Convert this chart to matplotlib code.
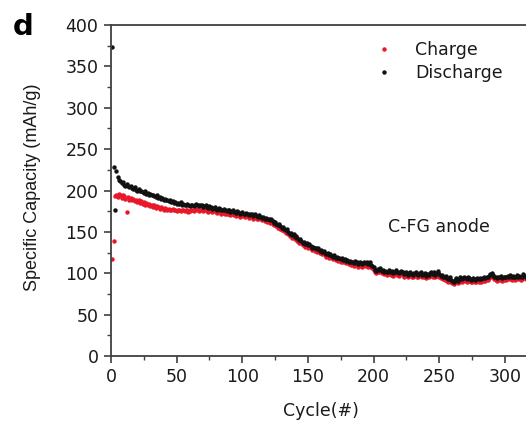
import matplotlib
matplotlib.use("Agg")
import matplotlib.pyplot as plt
from matplotlib.ticker import MultipleLocator, FixedLocator

plt.rcParams['font.family'] = ['DejaVu Sans']

discharge = [
    373, 228, 176, 224, 216, 213, 211, 209, 210, 207,
    206, 208, 205, 204, 206, 203, 202, 204, 201, 200,
    202, 199, 200, 198, 197, 199, 196, 197, 195, 196,
    194, 195, 193, 192, 194, 191, 192, 190, 191, 189,
    190, 188, 189, 187, 188, 186, 187, 185, 186, 184,
    185, 184, 186, 183, 184, 182, 183, 184, 182, 181,
    183, 182, 181, 183, 184, 182, 181, 183, 182, 180,
    181, 182, 180, 179, 181, 180, 178, 179, 180, 178,
    177, 179, 178, 176, 177, 178, 176, 175, 177, 176,
    174, 175, 176, 174, 173, 175, 174, 172, 173, 174,
    172, 171, 173, 172, 170, 171, 172, 169, 170, 171,
    169, 168, 170, 168, 167, 168, 166, 167, 165, 166,
    164, 165, 163, 161, 162, 160, 158, 159, 157, 155,
    156, 154, 152, 153, 150, 148, 149, 146, 147, 144,
    145, 142, 140, 141, 139, 137, 138, 135, 136, 134,
    135, 133, 131, 132, 130, 131, 129, 130, 127, 128,
    126, 127, 125, 123, 124, 122, 123, 121, 120, 122,
    119, 120, 118, 119, 117, 118, 116, 117, 115, 116,
    114, 115, 113, 114, 112, 115, 113, 111, 112, 113,
    111, 112, 114, 112, 113, 111, 113, 110, 109, 107,
    104, 103, 105, 104, 106, 103, 104, 102, 103, 101,
    102, 104, 101, 103, 100, 102, 104, 101, 100, 102,
    103, 101, 99, 100, 102, 98, 100, 101, 99, 98,
    100, 102, 99, 98, 100, 101, 98, 99, 100, 97,
    99, 98, 100, 102, 99, 101, 98, 100, 103, 99,
    97, 98, 96, 95, 97, 94, 93, 95, 92, 91,
    90, 92, 94, 91, 93, 95, 93, 94, 96, 94,
    93, 95, 94, 92, 93, 94, 92, 93, 94, 93,
    94, 93, 94, 95, 94, 96, 95, 97, 99, 100,
    98, 96, 95, 94, 96, 95, 97, 94, 95, 96,
    95, 97, 96, 98, 95, 97, 96, 95, 98, 96,
    97, 95, 96, 99, 97, 96, 98, 97, 95, 96,
]

charge = [
    117, 139, 193, 195, 192, 196, 194, 191, 195, 193,
    190, 174, 192, 189, 191, 188, 190, 187, 189, 186,
    188, 185, 187, 184, 186, 183, 185, 182, 184, 181,
    183, 180, 182, 179, 181, 180, 178, 180, 179, 177,
    179, 178, 177, 178, 176, 177, 178, 176, 177, 175,
    177, 176, 175, 177, 176, 175, 177, 176, 174, 175,
    176, 177, 175, 176, 178, 176, 175, 177, 176, 175,
    176, 177, 175, 174, 176, 175, 174, 175, 176, 174,
    173, 175, 174, 172, 173, 174, 172, 171, 173, 172,
    170, 171, 172, 170, 169, 171, 170, 168, 169, 170,
    169, 168, 170, 169, 167, 168, 169, 166, 167, 168,
    166, 165, 167, 165, 164, 165, 163, 164, 162, 163,
    161, 162, 160, 158, 159, 157, 155, 156, 154, 152,
    153, 151, 149, 150, 147, 145, 146, 143, 144, 141,
    142, 139, 137, 138, 136, 134, 135, 132, 133, 131,
    132, 130, 128, 129, 127, 128, 126, 127, 124, 125,
    123, 124, 122, 120, 121, 119, 120, 118, 117, 119,
    116, 117, 115, 116, 114, 115, 113, 114, 112, 113,
    111, 112, 110, 111, 109, 112, 110, 108, 109, 110,
    108, 109, 111, 109, 110, 108, 110, 107, 106, 104,
    101, 100, 102, 101, 103, 100, 101, 99, 100, 98,
    99, 101, 98, 100, 97, 99, 101, 98, 97, 99,
    100, 98, 96, 97, 99, 95, 97, 98, 96, 95,
    97, 99, 96, 95, 97, 98, 95, 96, 97, 94,
    96, 95, 97, 99, 96, 98, 95, 97, 100, 96,
    94, 95, 93, 92, 94, 91, 90, 92, 89, 88,
    87, 89, 91, 88, 90, 92, 90, 91, 93, 91,
    90, 92, 91, 89, 90, 91, 89, 90, 91, 90,
    91, 90, 91, 92, 91, 93, 92, 94, 96, 97,
    95, 93, 92, 91, 93, 92, 94, 91, 92, 93,
    92, 94, 93, 95, 92, 94, 93, 92, 95, 93,
    94, 92, 93, 96, 94, 93, 95, 94, 92, 93,
]

cycles = list(range(1, len(discharge) + 1))
x_major = [0, 50, 100, 150, 200, 250, 300]

W, H = 526, 428
fig = plt.figure(figsize=(W / 100, H / 100), dpi=100)
ax_w = 459.6
ax_h = 331
ax = fig.add_axes([111 / W, 1 - 356 / H, ax_w / W, ax_h / H])

ax.plot(cycles, charge, linestyle='none', marker='o', ms=3.2, mew=0,
        color='#e8182a', label='Charge')
ax.plot(cycles, discharge, linestyle='none', marker='o', ms=3.2, mew=0,
        color='#111111', label='Discharge')

ax.set_xlim(0, 350)
ax.set_ylim(0, 400)
ax.xaxis.set_major_locator(FixedLocator(x_major))
ax.xaxis.set_minor_locator(MultipleLocator(25))
ax.yaxis.set_major_locator(MultipleLocator(50))
ax.yaxis.set_minor_locator(MultipleLocator(25))

for s in ax.spines.values():
    s.set_color('#404040')
    s.set_linewidth(1.3)
ax.spines['right'].set_visible(False)

fs = 12.5
ax.tick_params(which='major', direction='out', length=5, width=1.2,
               color='#404040', labelsize=fs, labelcolor='#1a1a1a', pad=4)
ax.tick_params(which='minor', direction='out', length=3, width=1.0,
               color='#404040')

ax.set_xlabel('Cycle(#)', fontsize=fs, color='#1a1a1a')
ax.set_ylabel('Specific Capacity (mAh/g)', fontsize=13, color='#1a1a1a',
              family=['Liberation Sans', 'DejaVu Sans'])
ax.xaxis.label.set_va('center')
ax.yaxis.label.set_va('center')
ax.xaxis.set_label_coords((321 - 111) / ax_w, -(411 - 356) / ax_h)
ax.yaxis.set_label_coords(-(111 - 33) / ax_w, (356 - 187) / ax_h)

leg = ax.legend(loc='upper left', bbox_to_anchor=((368 - 111) / ax_w, 1 - (34 - 25) / ax_h),
                frameon=False, fontsize=fs, handlelength=1.0, handletextpad=1.3,
                labelspacing=0.3, markerscale=1.0, borderaxespad=0)
for t in leg.get_texts():
    t.set_color('#1a1a1a')

ax.text((388 - 111) / ax_w, (356 - 227) / ax_h, 'C-FG anode', transform=ax.transAxes,
        fontsize=fs, color='#1a1a1a', va='center', ha='left')

fig.text(23 / W, 1 - 27 / H, 'd', fontsize=21, fontweight='bold',
         va='center', ha='center', color='black')

fig.savefig('out.png', dpi=100)
